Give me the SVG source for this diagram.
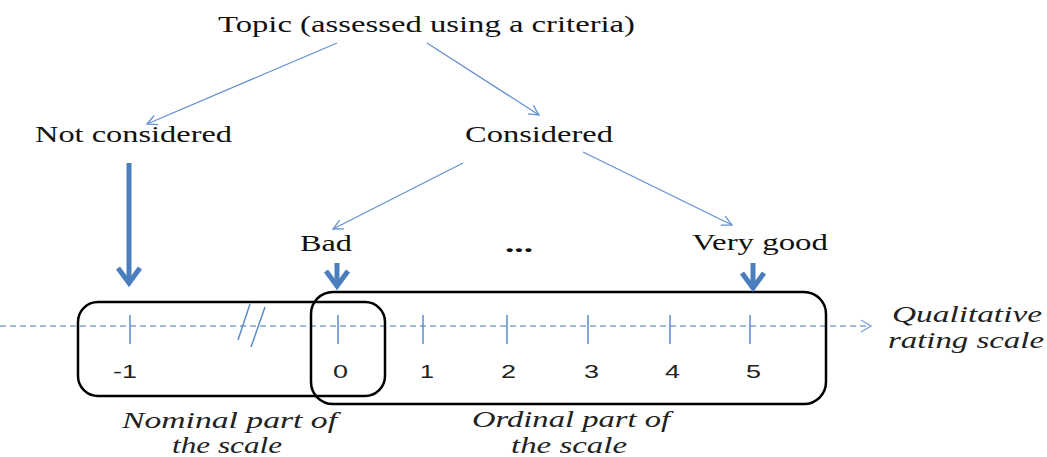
<svg xmlns="http://www.w3.org/2000/svg" width="1047" height="457" viewBox="0 0 1047 457">
<style>
.serif{font-family:"Liberation Serif","Times New Roman",serif;font-size:24px;fill:#111}
.ital{font-family:"Liberation Serif","Times New Roman",serif;font-style:italic;font-size:23px;fill:#222}
.num{font-family:"Liberation Sans",Arial,sans-serif;font-size:19px;fill:#222}
.thin{stroke:#6792D0;stroke-width:1.3;fill:none}
.thick{stroke:#4A7EBF;stroke-width:5;fill:none}
.tick{stroke:#5B8CCB;stroke-width:1.5}
.box{fill:none;stroke:#000;stroke-width:2.5}
</style>
<defs>
<marker id="openHead" viewBox="0 0 12 12" refX="11" refY="6" markerWidth="12" markerHeight="12" markerUnits="userSpaceOnUse" orient="auto">
<path d="M1,1 L11,6 L1,11" fill="none" stroke="#6792D0" stroke-width="1.3"/>
</marker>
<marker id="dashHead" viewBox="0 0 12 14" refX="11" refY="7" markerWidth="12" markerHeight="14" markerUnits="userSpaceOnUse" orient="auto">
<path d="M1,1 L11,7 L1,13" fill="none" stroke="#7BA3D8" stroke-width="1.4"/>
</marker>
<marker id="thickHead" viewBox="-20 -14 26 28" refX="0" refY="0" markerWidth="26" markerHeight="28" markerUnits="userSpaceOnUse" orient="auto">
<path d="M-15,-11 L0,0 L-15,11" fill="none" stroke="#4A7EBF" stroke-width="5" stroke-linejoin="miter"/>
</marker>
</defs>

<g id="scale-axis">
<line x1="0" y1="326" x2="871" y2="326" stroke="#7BA3D8" stroke-width="1.3" stroke-dasharray="6 4" marker-end="url(#dashHead)"/>
<line class="tick" x1="130" y1="315" x2="130" y2="344"/>
<line class="tick" x1="338" y1="315" x2="338" y2="344"/>
<line class="tick" x1="423" y1="315" x2="423" y2="344"/>
<line class="tick" x1="507" y1="315" x2="507" y2="344"/>
<line class="tick" x1="588" y1="315" x2="588" y2="344"/>
<line class="tick" x1="670" y1="315" x2="670" y2="344"/>
<line class="tick" x1="750" y1="315" x2="750" y2="344"/>
<line class="tick" x1="250" y1="304" x2="238" y2="340"/>
<line class="tick" x1="265" y1="307" x2="251" y2="347"/>
<text class="num" x="113" y="378" textLength="24" lengthAdjust="spacingAndGlyphs">-1</text>
<text class="num" x="333" y="378" textLength="15" lengthAdjust="spacingAndGlyphs">0</text>
<text class="num" x="420" y="378" textLength="14" lengthAdjust="spacingAndGlyphs">1</text>
<text class="num" x="501" y="378" textLength="15" lengthAdjust="spacingAndGlyphs">2</text>
<text class="num" x="584" y="378" textLength="15" lengthAdjust="spacingAndGlyphs">3</text>
<text class="num" x="665" y="378" textLength="15" lengthAdjust="spacingAndGlyphs">4</text>
<text class="num" x="746" y="378" textLength="15" lengthAdjust="spacingAndGlyphs">5</text>
</g>

<g id="nominal-box">
<rect class="box" x="78" y="302" width="307" height="94" rx="20" ry="20"/>
<text class="ital" x="122" y="428" textLength="215" lengthAdjust="spacingAndGlyphs">Nominal part of</text>
<text class="ital" x="172" y="453" textLength="110" lengthAdjust="spacingAndGlyphs">the scale</text>
</g>

<g id="ordinal-box">
<rect class="box" x="311" y="292" width="515" height="112" rx="22" ry="22"/>
<text class="ital" x="472" y="427" textLength="198" lengthAdjust="spacingAndGlyphs">Ordinal part of</text>
<text class="ital" x="511" y="453" textLength="116" lengthAdjust="spacingAndGlyphs">the scale</text>
</g>

<g id="axis-label">
<text class="ital" x="892" y="322" textLength="150" lengthAdjust="spacingAndGlyphs">Qualitative</text>
<text class="ital" x="888" y="348" textLength="156" lengthAdjust="spacingAndGlyphs">rating scale</text>
</g>

<g id="topic">
<text class="serif" x="218" y="32" textLength="417" lengthAdjust="spacingAndGlyphs">Topic (assessed using a criteria)</text>
</g>
<g id="not-considered">
<text class="serif" x="35" y="142" textLength="197" lengthAdjust="spacingAndGlyphs">Not considered</text>
</g>
<g id="considered">
<text class="serif" x="465" y="142" textLength="148" lengthAdjust="spacingAndGlyphs">Considered</text>
</g>
<g id="bad">
<text class="serif" x="300" y="251" textLength="52" lengthAdjust="spacingAndGlyphs">Bad</text>
</g>
<g id="ellipsis">
<text class="serif" x="505" y="252" textLength="28" lengthAdjust="spacingAndGlyphs" font-weight="bold">...</text>
</g>
<g id="very-good">
<text class="serif" x="692" y="250" textLength="136" lengthAdjust="spacingAndGlyphs">Very good</text>
</g>

<g id="connectors">
<line class="thin" x1="337" y1="43" x2="147" y2="124" marker-end="url(#openHead)"/>
<line class="thin" x1="427" y1="43" x2="539" y2="115" marker-end="url(#openHead)"/>
<line class="thin" x1="463" y1="163" x2="333" y2="229" marker-end="url(#openHead)"/>
<line class="thin" x1="583" y1="152" x2="732" y2="225" marker-end="url(#openHead)"/>
<line class="thick" x1="129" y1="163" x2="129" y2="283" marker-end="url(#thickHead)"/>
<line class="thick" x1="337" y1="263" x2="337" y2="286" marker-end="url(#thickHead)"/>
<line class="thick" x1="753" y1="263" x2="753" y2="288" marker-end="url(#thickHead)"/>
</g>
</svg>
